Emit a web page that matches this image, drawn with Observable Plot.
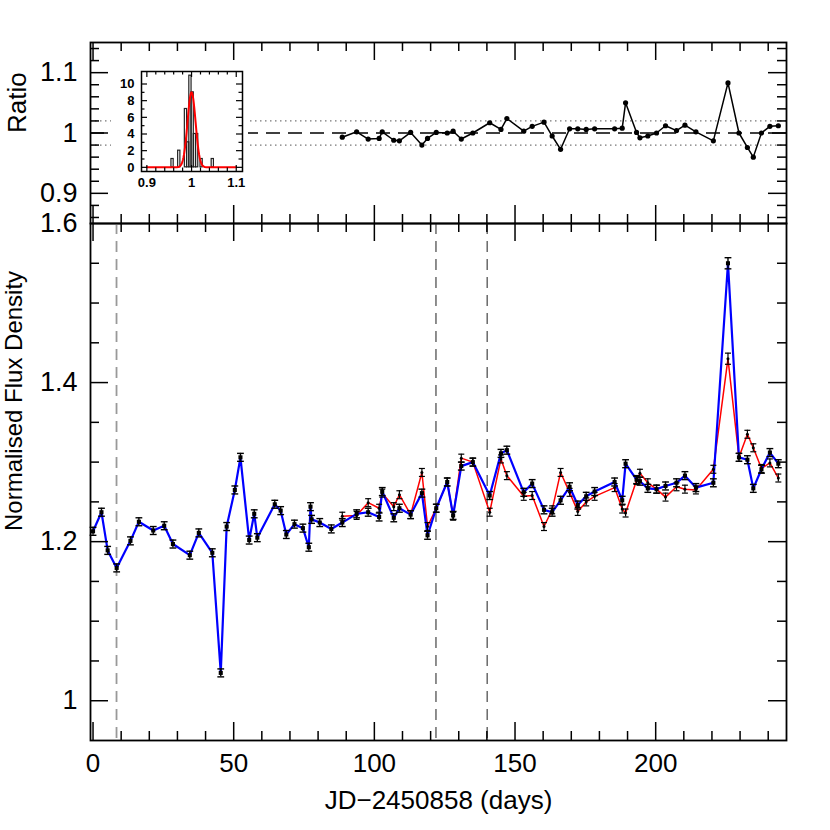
<!DOCTYPE html>
<html>
<head>
<meta charset="utf-8">
<script src="https://cdn.jsdelivr.net/npm/d3@7"></script>
<script src="https://cdn.jsdelivr.net/npm/@observablehq/plot@0.6"></script>
<style>
  html, body { margin: 0; padding: 0; background: #fff; }
  #wrap { position: relative; width: 830px; height: 830px; overflow: hidden; }
</style>
</head>
<body>
<div id="wrap"></div>
<script>
// ---------------- data ----------------
const blueDays = [0.0, 3.0, 5.2, 8.4, 13.3, 16.3, 21.4, 25.3, 28.4, 34.4, 37.6, 42.4, 45.4, 47.5, 50.4,
  52.4, 55.5, 57.3, 58.4, 64.6, 66.7, 68.7, 71.6, 74.6, 76.7, 77.3, 77.7, 80.6, 84.7, 88.6,
  93.7, 97.8, 101.7, 102.8, 106.9, 108.9, 112.9, 116.9, 118.9, 122.0, 125.9, 128.0, 130.9, 135.0, 141.0,
  145.0, 147.1, 153.1, 156.1, 160.3, 163.2, 166.2, 169.4, 172.3, 175.3, 178.3, 185.4, 188.1, 189.3, 193.2,
  194.4, 197.2, 200.3, 203.5, 207.4, 210.4, 214.3, 220.5, 225.7, 229.6, 232.6, 234.7, 237.6, 240.6, 243.6];
const blueFlux = [1.213, 1.237, 1.189, 1.167, 1.201, 1.225, 1.214, 1.220, 1.197, 1.183, 1.211, 1.186, 1.035, 1.219, 1.265,
  1.306, 1.202, 1.235, 1.205, 1.247, 1.239, 1.209, 1.222, 1.217, 1.193, 1.244, 1.228, 1.224, 1.216, 1.224,
  1.235, 1.237, 1.231, 1.263, 1.230, 1.242, 1.234, 1.261, 1.208, 1.242, 1.275, 1.233, 1.295, 1.300, 1.258,
  1.311, 1.315, 1.262, 1.273, 1.240, 1.237, 1.252, 1.269, 1.246, 1.257, 1.263, 1.275, 1.252, 1.298, 1.278,
  1.276, 1.267, 1.266, 1.270, 1.274, 1.283, 1.268, 1.274, 1.550, 1.306, 1.303, 1.267, 1.291, 1.312, 1.298];
const blueErr = [0.005, 0.005, 0.005, 0.005, 0.005, 0.005, 0.005, 0.005, 0.005, 0.005, 0.005, 0.005, 0.005, 0.005, 0.005,
  0.005, 0.005, 0.005, 0.005, 0.005, 0.005, 0.005, 0.005, 0.005, 0.005, 0.005, 0.005, 0.005, 0.005, 0.005,
  0.005, 0.005, 0.005, 0.005, 0.005, 0.005, 0.005, 0.005, 0.005, 0.005, 0.005, 0.005, 0.005, 0.005, 0.005,
  0.005, 0.005, 0.005, 0.005, 0.005, 0.005, 0.005, 0.005, 0.005, 0.005, 0.005, 0.005, 0.005, 0.005, 0.005,
  0.005, 0.005, 0.005, 0.005, 0.005, 0.005, 0.005, 0.005, 0.007, 0.005, 0.005, 0.005, 0.005, 0.005, 0.005];

const redDays = [88.6, 93.7, 97.8, 101.7, 102.8, 106.9, 108.9, 112.9, 116.9, 118.9, 122.0, 125.9, 128.0, 130.9, 135.0,
  141.0, 145.0, 147.1, 153.1, 156.1, 160.3, 163.2, 166.2, 169.4, 172.3, 175.3, 178.3, 185.4, 188.1, 189.3,
  193.2, 194.4, 197.2, 200.3, 203.5, 207.4, 210.4, 214.3, 220.5, 225.7, 229.6, 232.6, 234.7, 237.6, 240.6, 243.6];
const redFlux = [1.232, 1.233, 1.249, 1.242, 1.261, 1.244, 1.259, 1.234, 1.287, 1.219, 1.242, 1.275, 1.232, 1.305, 1.300,
  1.237, 1.304, 1.283, 1.257, 1.258, 1.219, 1.240, 1.287, 1.262, 1.238, 1.250, 1.257, 1.268, 1.241, 1.236,
  1.277, 1.286, 1.274, 1.266, 1.256, 1.269, 1.266, 1.265, 1.291, 1.430, 1.306, 1.335, 1.318, 1.292, 1.299, 1.280];
const redErr = [0.005, 0.005, 0.005, 0.005, 0.005, 0.005, 0.005, 0.005, 0.005, 0.005, 0.005, 0.005, 0.005, 0.005, 0.005,
  0.005, 0.005, 0.005, 0.005, 0.005, 0.005, 0.005, 0.005, 0.005, 0.005, 0.005, 0.005, 0.005, 0.005, 0.005,
  0.005, 0.005, 0.005, 0.005, 0.005, 0.005, 0.005, 0.005, 0.005, 0.007, 0.005, 0.005, 0.005, 0.005, 0.005, 0.005];

const ratioDays = redDays;
const ratioValues = [0.993, 1.002, 0.990, 0.991, 1.002, 0.988, 0.987, 1.001, 0.980, 0.991, 1.001, 1.000, 1.003, 0.990, 1.000,
  1.017, 1.006, 1.024, 1.003, 1.011, 1.018, 0.995, 0.973, 1.007, 1.007, 1.006, 1.007, 1.007, 1.008, 1.050,
  1.001, 0.992, 0.995, 1.000, 1.012, 1.004, 1.013, 1.002, 0.987, 1.083, 1.000, 0.976, 0.960, 1.000, 1.011, 1.012];

// vertical event markers (days)
const eventDaysLight = [8.35];
const eventDaysDark = [121.9, 140.1];

// inset histogram of the ratio
const histLo = [0.955, 0.970, 0.985, 0.990, 0.995, 1.000, 1.005, 1.010, 1.020, 1.045];
const histCounts = [1, 2, 7, 3, 11, 9, 4, 4, 1, 1];
const histBinWidth = 0.005;
// gaussian fit drawn over the histogram
const fitAmp = 9, fitMean = 1.0, fitSigma = 0.009;

// tick labels
const xTickLabels = [0, 50, 100, 150, 200];
const ratioTickLabels = [0.9, 1, 1.1];
const fluxTickLabels = [1, 1.2, 1.4, 1.6];
const insetXTickLabels = [0.9, 1, 1.1];
const insetYTickLabels = [0, 2, 4, 6, 8, 10];

// ---------------- build ----------------
const font = '"Liberation Sans", Arial, Helvetica, sans-serif';
const W = 830, ML = 90, MR = 44;
const FW = W - ML - MR;
const xDomain = [-0.9, 246.5];

const blue = blueDays.map((d, i) => ({day: d, flux: blueFlux[i], err: blueErr[i]}));
const red = redDays.map((d, i) => ({day: d, flux: redFlux[i], err: redErr[i]}));
const ratio = ratioDays.map((d, i) => ({day: d, ratio: ratioValues[i]}));
const hist = histLo.map((lo, i) => ({lo, hi: lo + histBinWidth, count: histCounts[i]}));
const fit = d3.range(0.9, 1.1001, 0.001).map(v => ({v, c: fitAmp * Math.exp(-0.5 * ((v - fitMean) / fitSigma) ** 2)}));

const capSymbol = {draw(ctx, size) { const w = Math.sqrt(size / Math.PI); ctx.moveTo(-w, 0); ctx.lineTo(w, 0); }};

function ticksX(values, len, frameH, sw = 1.5) {
  return [
    Plot.tickX(values, {x: d => d, insetTop: frameH - len, stroke: "black", strokeWidth: sw}),
    Plot.tickX(values, {x: d => d, insetBottom: frameH - len, stroke: "black", strokeWidth: sw})
  ];
}
function ticksY(values, len, frameW, sw = 1.5) {
  return [
    Plot.tickY(values, {y: d => d, insetRight: frameW - len, stroke: "black", strokeWidth: sw}),
    Plot.tickY(values, {y: d => d, insetLeft: frameW - len, stroke: "black", strokeWidth: sw})
  ];
}
const near = (v, arr) => arr.some(a => Math.abs(a - v) < 1e-6);

const xMajor = d3.range(0, 241, 50);
const xMinor = d3.range(0, 241, 10).filter(v => !near(v, xMajor));

// ---------- top panel ----------
const topFrameH = 181;
const rMajor = [0.9, 1.0, 1.1];
const rMinor = d3.range(0.86, 1.145, 0.02).filter(v => !near(v, rMajor));
const topPlot = Plot.plot({
  width: W, height: 224, marginLeft: ML, marginRight: MR, marginTop: 42, marginBottom: 1,
  style: {background: "transparent", overflow: "visible", fontFamily: font, color: "black"},
  x: {domain: xDomain, axis: null},
  y: {domain: [0.85, 1.15], axis: null},
  marks: [
    Plot.ruleY([0.98, 1.02], {stroke: "#777", strokeWidth: 1.2, strokeDasharray: "1.5,3.5"}),
    Plot.ruleY([1.0], {stroke: "black", strokeWidth: 1.6, strokeDasharray: "14,8"}),
    Plot.line(ratio, {x: "day", y: "ratio", stroke: "black", strokeWidth: 1.5}),
    Plot.dot(ratio, {x: "day", y: "ratio", r: 2.6, fill: "black"}),
    ...ticksX(xMinor, 9, topFrameH), ...ticksX(xMajor, 18, topFrameH),
    ...ticksY(rMinor, 9, FW), ...ticksY(rMajor, 18, FW),
    Plot.axisY({ticks: ratioTickLabels, tickSize: 0, tickPadding: 13, fontSize: 27, tickFormat: d => String(d), label: null}),
    Plot.text(["Ratio"], {frameAnchor: "left", dx: -73, rotate: -90, fontSize: 26}),
    Plot.frame({stroke: "black", strokeWidth: 1.8})
  ]
});

// ---------- bottom panel ----------
const botFrameH = 517;
const fMajor = [1.0, 1.2, 1.4];
const fMinor = d3.range(1.05, 1.59, 0.05).filter(v => !near(v, fMajor));
const botPlot = Plot.plot({
  width: W, height: 608, marginLeft: ML, marginRight: MR, marginTop: 1, marginBottom: 90,
  style: {background: "transparent", overflow: "visible", fontFamily: font, color: "black"},
  x: {domain: xDomain, axis: null},
  y: {domain: [0.95, 1.6], axis: null},
  marks: [
    Plot.ruleX(eventDaysLight, {x: d => d, stroke: "#999", strokeWidth: 1.8, strokeDasharray: "11,7"}),
    Plot.ruleX(eventDaysDark, {x: d => d, stroke: "#444", strokeWidth: 1.2, strokeDasharray: "11,7"}),
    Plot.line(red, {x: "day", y: "flux", stroke: "#ff0000", strokeWidth: 1.5}),
    Plot.line(blue, {x: "day", y: "flux", stroke: "#0000ff", strokeWidth: 2.2}),
    Plot.ruleX(red, {x: "day", y1: d => d.flux - d.err, y2: d => d.flux + d.err, stroke: "black", strokeWidth: 1.2}),
    Plot.dot(red, {x: "day", y: d => d.flux + d.err, symbol: capSymbol, r: 3, stroke: "black", strokeWidth: 1.2, fill: "none"}),
    Plot.dot(red, {x: "day", y: d => d.flux - d.err, symbol: capSymbol, r: 3, stroke: "black", strokeWidth: 1.2, fill: "none"}),
    Plot.dot(red, {x: "day", y: "flux", r: 1.5, fill: "black"}),
    Plot.ruleX(blue, {x: "day", y1: d => d.flux - d.err, y2: d => d.flux + d.err, stroke: "black", strokeWidth: 1.4}),
    Plot.dot(blue, {x: "day", y: d => d.flux + d.err, symbol: capSymbol, r: 3.4, stroke: "black", strokeWidth: 1.4, fill: "none"}),
    Plot.dot(blue, {x: "day", y: d => d.flux - d.err, symbol: capSymbol, r: 3.4, stroke: "black", strokeWidth: 1.4, fill: "none"}),
    Plot.dot(blue, {x: "day", y: "flux", symbol: "square", r: 2.3, fill: "black"}),
    ...ticksX(xMinor, 9, botFrameH), ...ticksX(xMajor, 18, botFrameH),
    ...ticksY(fMinor, 9, FW), ...ticksY(fMajor, 18, FW),
    Plot.axisY({ticks: fluxTickLabels, tickSize: 0, tickPadding: 13, fontSize: 27, tickFormat: d => String(d), label: null}),
    Plot.axisX({ticks: xTickLabels, tickSize: 0, tickPadding: 13, fontSize: 26, tickFormat: d => String(d), label: null}),
    Plot.text(["Normalised Flux Density"], {frameAnchor: "left", dx: -76, dy: 49, rotate: -90, fontSize: 24}),
    Plot.text(["JD\u22122450858 (days)"], {frameAnchor: "bottom", dy: 68, fontSize: 26}),
    Plot.frame({stroke: "black", strokeWidth: 1.8})
  ]
});

// ---------- inset ----------
const inset = Plot.plot({
  width: 137, height: 132, marginLeft: 30, marginRight: 6, marginTop: 8, marginBottom: 24,
  style: {background: "white", overflow: "visible", fontFamily: font, color: "black"},
  x: {domain: [0.888, 1.114], axis: null},
  y: {domain: [-0.5, 11.5], axis: null},
  marks: [
    Plot.rectY(hist, {x1: "lo", x2: "hi", y: "count", stroke: "#222", strokeWidth: 1.2, fill: "none"}),
    Plot.line(fit, {x: "v", y: "c", stroke: "#ff0000", strokeWidth: 2}),
    ...ticksX(d3.range(0.92, 1.09, 0.02).filter(v => !near(v, [1.0])), 3.5, 100, 1.2),
    ...ticksX([0.9, 1.0, 1.1], 6, 100, 1.2),
    ...ticksY(d3.range(1, 11, 2), 3.5, 101, 1.2),
    ...ticksY(d3.range(0, 11, 2), 6, 101, 1.2),
    Plot.axisX({ticks: insetXTickLabels, tickSize: 0, tickPadding: 6, fontSize: 13, fontWeight: "bold", tickFormat: d => String(d), label: null}),
    Plot.axisY({ticks: insetYTickLabels, tickSize: 0, tickPadding: 7, fontSize: 13, fontWeight: "bold", tickFormat: d => String(d), label: null}),
    Plot.frame({stroke: "black", strokeWidth: 1.5})
  ]
});

const wrap = document.getElementById("wrap");
function place(el, left, top) {
  el.style.position = "absolute";
  el.style.left = left + "px";
  el.style.top = top + "px";
  el.style.maxWidth = "none";
  wrap.appendChild(el);
}
place(topPlot, 0, 0);
place(botPlot, 0, 222);
place(inset, 111, 63);
</script>
</body>
</html>
